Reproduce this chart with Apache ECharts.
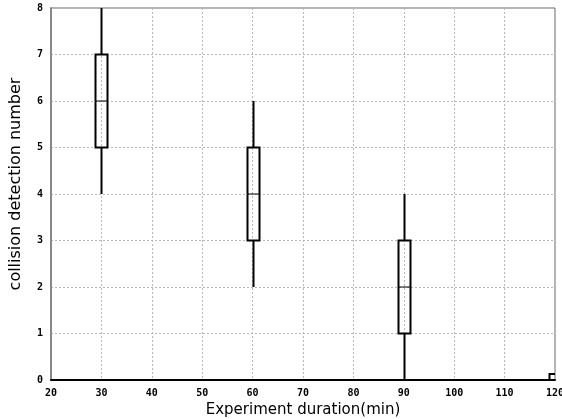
<!DOCTYPE html>
<html>
<head>
<meta charset="utf-8">
<script src="https://cdn.jsdelivr.net/npm/echarts@6/dist/echarts.min.js"></script>
<style>
  html, body { margin: 0; padding: 0; background: #fff; }
  #chart { width: 562px; height: 419px; }
</style>
</head>
<body>
<div id="chart"></div>
<script>
// Experiment durations (min) and their box statistics
const durations = [30, 60, 90, 120];
const lows      = [4, 2, 0, 0];
const q1s       = [5, 3, 1, 0];
const medians   = [6, 4, 2, 0];
const q3s       = [7, 5, 3, 0.13];
const highs     = [8, 6, 4, 0.13];

const xTicks = { min: 20, max: 120, interval: 10 };
const yTicks = { min: 0, max: 8, interval: 1 };

const boxData = durations.map((d, i) => [d, lows[i], q1s[i], medians[i], q3s[i], highs[i]]);

const chart = echarts.init(document.getElementById('chart'), null, { renderer: 'canvas' });

const tickFont = { fontFamily: 'DejaVu Sans Mono', fontWeight: 'bold', fontSize: 10, color: '#000' };
const gridLine = { show: true, lineStyle: { color: '#b8b8b8', type: [2, 2], width: 1 } };

function renderBox(params, api) {
  const x = api.value(0);
  const pLow = api.coord([x, api.value(1)]);
  const pQ1 = api.coord([x, api.value(2)]);
  const pMed = api.coord([x, api.value(3)]);
  const pQ3 = api.coord([x, api.value(4)]);
  const pHigh = api.coord([x, api.value(5)]);
  const half = 6;
  const cx = Math.round(pMed[0]) + 0.5;
  const stroke = { stroke: '#000', lineWidth: 2, fill: null };
  return {
    type: 'group',
    children: [
      { type: 'line', shape: { x1: cx, y1: pLow[1], x2: cx, y2: pQ1[1] }, style: stroke },
      { type: 'line', shape: { x1: cx, y1: pQ3[1], x2: cx, y2: pHigh[1] }, style: stroke },
      { type: 'rect', shape: { x: cx - half, y: pQ3[1], width: half * 2, height: pQ1[1] - pQ3[1] }, style: stroke },
      { type: 'line', shape: { x1: cx - half, y1: pMed[1], x2: cx + half, y2: pMed[1] }, style: { stroke: '#000', lineWidth: 1 } }
    ]
  };
}

chart.setOption({
  animation: false,
  backgroundColor: '#fff',
  grid: {
    left: 51, right: 7, top: 8, bottom: 39,
    containLabel: false,
    outerBoundsMode: 'none',
    show: true, borderColor: '#666', borderWidth: 1
  },
  xAxis: {
    type: 'value',
    min: xTicks.min, max: xTicks.max, interval: xTicks.interval,
    name: 'Experiment duration(min)',
    nameLocation: 'middle',
    nameGap: 20,
    nameTextStyle: { fontFamily: 'DejaVu Sans', fontSize: 15, color: '#000' },
    axisLine: { show: true, lineStyle: { color: '#000', width: 2 } },
    axisTick: { show: false },
    axisLabel: Object.assign({ margin: 8 }, tickFont),
    splitLine: gridLine
  },
  yAxis: {
    type: 'value',
    min: yTicks.min, max: yTicks.max, interval: yTicks.interval,
    name: 'collision detection number',
    nameLocation: 'middle',
    nameGap: 27,
    nameTextStyle: { fontFamily: 'DejaVu Sans', fontSize: 16, color: '#000', padding: [0, 0, 0, 20] },
    axisLine: { show: true, lineStyle: { color: '#888', width: 2 } },
    axisTick: { show: false },
    axisLabel: Object.assign({ margin: 8 }, tickFont),
    splitLine: gridLine
  },
  series: [{
    type: 'custom',
    clip: true,
    renderItem: renderBox,
    encode: { x: 0, y: [1, 2, 3, 4, 5] },
    data: boxData
  }]
});
</script>
</body>
</html>
